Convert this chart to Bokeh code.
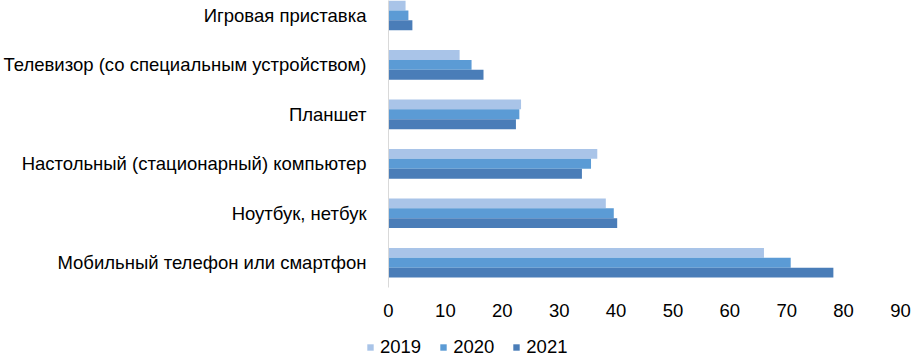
from bokeh.plotting import figure
from bokeh.layouts import column
from bokeh.models import ColumnDataSource, Range1d, FixedTicker, Legend, LegendItem
from bokeh.transform import dodge
from bokeh.embed import file_html
from bokeh.resources import INLINE

# Categories, top to bottom
categories = [
    "Игровая приставка",
    "Телевизор (со специальным устройством)",
    "Планшет",
    "Настольный (стационарный) компьютер",
    "Ноутбук, нетбук",
    "Мобильный телефон или смартфон",
]
years = ["2019", "2020", "2021"]
v2019 = [3.0, 12.5, 23.3, 36.7, 38.2, 66.0]
v2020 = [3.5, 14.6, 23.0, 35.6, 39.6, 70.7]
v2021 = [4.2, 16.7, 22.4, 34.0, 40.2, 78.2]
x_ticks = [0, 10, 20, 30, 40, 50, 60, 70, 80, 90]

colors = ["#a9c4e8", "#5b9bd5", "#4a7db8"]
FONT = "Liberation Sans"
FS = "18.5px"

n = len(categories)
ypos = [n - 1 - i for i in range(n)]  # top category highest
source = ColumnDataSource(dict(y=ypos, cat=categories, v2019=v2019, v2020=v2020, v2021=v2021))

p = figure(width=911, height=330, output_backend="svg", toolbar_location=None,
           x_range=Range1d(0, 90), y_range=Range1d(-0.5, 5.3),
           min_border_left=387, min_border_right=11, min_border_top=0, min_border_bottom=43)
p.frame_align = False
p.outline_line_color = None
p.xgrid.grid_line_color = None
p.ygrid.grid_line_color = None
p.background_fill_color = "white"

offsets = [0.2, 0.0, -0.2]
for yr, col, off in zip(years, colors, offsets):
    p.hbar(y=dodge("y", off), right="v" + yr, left=0, height=0.2, source=source,
           fill_color=col, line_color=None)

# x axis
p.xaxis.ticker = FixedTicker(ticks=x_ticks)
p.xaxis.axis_line_color = None
p.xaxis.major_tick_line_color = None
p.xaxis.minor_tick_line_color = None
p.xaxis.major_label_standoff = 10
p.xaxis.major_label_text_font = FONT
p.xaxis.major_label_text_font_size = FS
p.xaxis.major_label_text_color = "#000000"

# y axis
p.yaxis.ticker = FixedTicker(ticks=ypos)
p.yaxis.major_label_overrides = {y: c for y, c in zip(ypos, categories)}
p.yaxis.axis_line_color = "#d9d9d9"
p.yaxis.major_tick_line_color = None
p.yaxis.minor_tick_line_color = None
p.yaxis.major_label_standoff = 16
p.yaxis.major_label_text_font = FONT
p.yaxis.major_label_text_font_size = FS
p.yaxis.major_label_text_color = "#000000"

# legend strip below the chart (bars kept out of its view range; only the legend shows)
p2 = figure(width=911, height=26, output_backend="svg", toolbar_location=None,
            x_range=Range1d(0, 1), y_range=Range1d(100, 101),
            x_axis_location=None, y_axis_location=None,
            min_border_left=0, min_border_right=0, min_border_top=0, min_border_bottom=0)
p2.frame_align = False
p2.outline_line_color = None
p2.xgrid.grid_line_color = None
p2.ygrid.grid_line_color = None
items = []
for yr, col in zip(years, colors):
    r = p2.hbar(y="y", right="v" + yr, left=0, height=0.2, source=source,
                fill_color=col, line_color=None)
    items.append(LegendItem(label=yr, renderers=[r]))

lg = Legend(items=items)
lg.orientation = "horizontal"
lg.location = (366, -2)
lg.glyph_width = 8
lg.glyph_height = 8
lg.label_standoff = 6
lg.spacing = 18
lg.padding = 0
lg.margin = 0
lg.border_line_alpha = 0
lg.background_fill_alpha = 0
lg.label_text_font = FONT
lg.label_text_font_size = FS
lg.label_text_color = "#000000"
p2.add_layout(lg, "center")

open("out.html", "w").write(file_html(column(p, p2), INLINE))
